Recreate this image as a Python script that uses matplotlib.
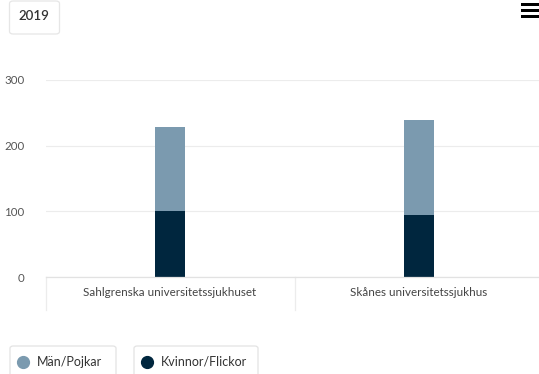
import matplotlib
matplotlib.use("Agg")
import matplotlib.pyplot as plt
from matplotlib.patches import FancyBboxPatch, Circle, Rectangle
from matplotlib.lines import Line2D

categories = ["Sahlgrenska universitetssjukhuset", "Skånes universitetssjukhus"]
kvinnor = [101, 95]
man = [128, 144]
series_names = ["Män/Pojkar", "Kvinnor/Flickor"]
yticks = [0, 100, 200, 300]
year_label = "2019"

c_light = "#7b9aaf"
c_dark = "#00263e"
font = "Lato"

W, H = 539, 374
fig = plt.figure(figsize=(W / 100, H / 100), dpi=100)
fig.patch.set_facecolor("white")

def fx(px):
    return px / W

def fy(py):
    return 1 - py / H

ax_left, ax_right = 45.5, 543.5
ax_top, ax_bot = 80, 277
ax = fig.add_axes([fx(ax_left), fy(ax_bot), (ax_right - ax_left) / W, (ax_bot - ax_top) / H])
ax.set_xlim(-0.5, 1.5)
ax.set_ylim(0, 300)
x = list(range(len(categories)))
bw = 0.122
ax.bar(x, kvinnor, width=bw, color=c_dark, zorder=3)
ax.bar(x, man, width=bw, bottom=kvinnor, color=c_light, zorder=3)

for s in ax.spines.values():
    s.set_visible(False)
ax.set_yticks(yticks)
ax.set_yticklabels([str(v) for v in yticks], fontsize=8.3, color="#555555", family=font)
ax.tick_params(axis="y", length=0, pad=15)
ax.yaxis.grid(True, color="#ececec", linewidth=0.8, zorder=0)
ax.set_axisbelow(True)
ax.set_xticks([])
for xi, lab in zip(x, categories):
    ax.text(xi, -24, lab, ha="center", va="center", fontsize=8.4, color="#444444",
            family=font, clip_on=False)

# bottom axis line and category dividers
ax.add_line(Line2D([-0.5, 1.5], [0, 0], color="#e2e2e2", linewidth=0.9, clip_on=False, zorder=4))
for d in [-0.5, 0.5]:
    ax.add_line(Line2D([d, d], [0, -50], color="#ececec", linewidth=0.9, clip_on=False, zorder=1))

# year button
fig.patches.append(FancyBboxPatch((fx(9.5), fy(34)), fx(50), 33 / H,
                                  boxstyle="round,pad=0,rounding_size=0.007",
                                  transform=fig.transFigure, facecolor="white",
                                  edgecolor="#e6e6e6", linewidth=0.9))
fig.text(fx(34), fy(16.5), year_label, ha="center", va="center", fontsize=9.5,
         color="#333333", family=font, fontweight="semibold")

# hamburger menu
for yy in [3, 9, 15]:
    fig.patches.append(Rectangle((fx(521), fy(yy + 2.5)), fx(18), 2.5 / H,
                                 transform=fig.transFigure, facecolor="black", edgecolor="none"))

# legend boxes
legend_boxes = [(10, 116), (134, 258)]
for (x0, x1), name, col in zip(legend_boxes, series_names, [c_light, c_dark]):
    fig.patches.append(FancyBboxPatch((fx(x0), fy(380)), fx(x1 - x0), 34 / H,
                                      boxstyle="round,pad=0,rounding_size=0.006",
                                      transform=fig.transFigure, facecolor="white",
                                      edgecolor="#e3e3e3", linewidth=0.9))
    fig.lines.append(Line2D([fx(x0 + 13)], [fy(362)], marker="o", markersize=8.5,
                            color=col, transform=fig.transFigure, linestyle="none"))
    fig.text(fx(x0 + 27), fy(362), name, ha="left", va="center", fontsize=9,
             color="#333333", family=font)

fig.savefig("out.png", dpi=100, facecolor="white")
